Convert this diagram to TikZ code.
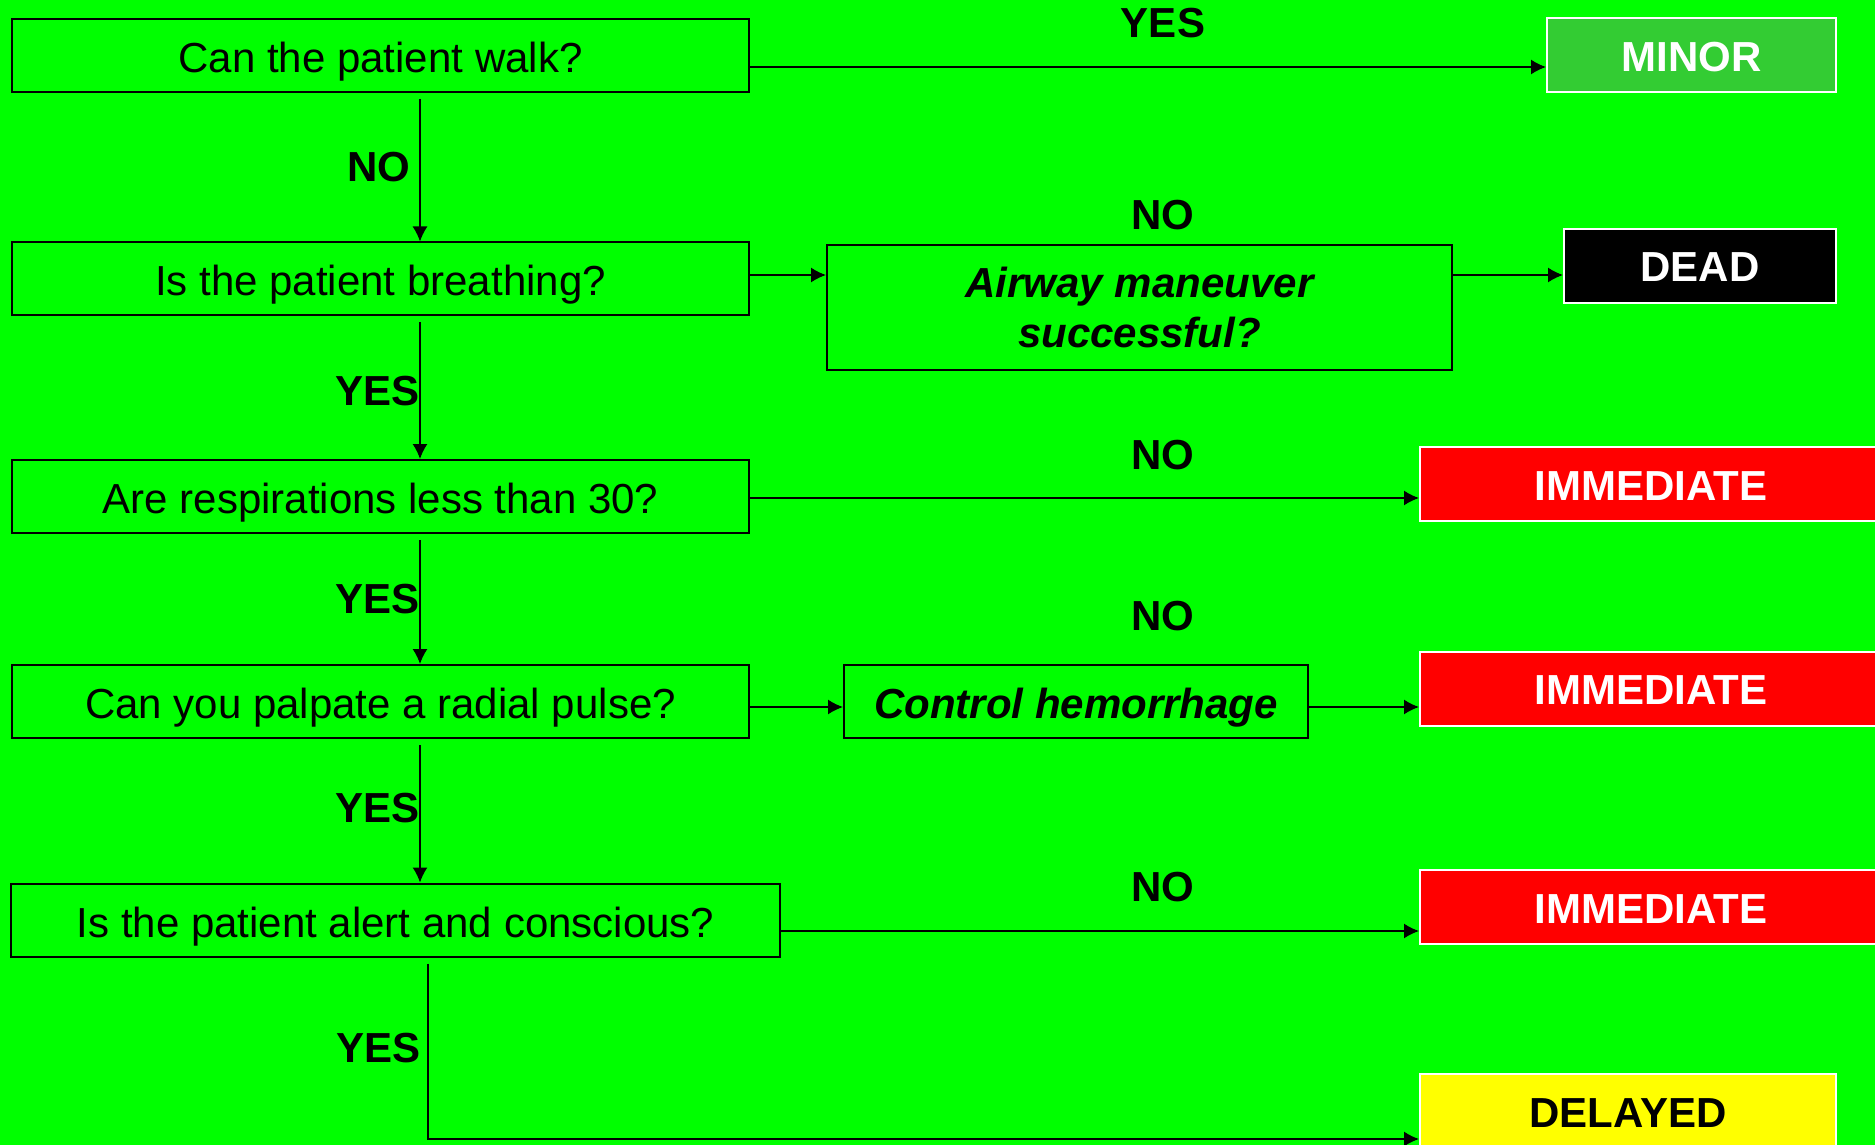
\documentclass[tikz,border=0pt]{standalone}
\usepackage{fontspec}
\setmainfont{Liberation Sans}
\usepackage{tikz}
\usetikzlibrary{positioning,arrows.meta,calc}
\definecolor{bggreen}{HTML}{00FF00}
\definecolor{minorgreen}{HTML}{33CC33}
\definecolor{immred}{HTML}{FF0000}
\definecolor{delyellow}{HTML}{FFFF00}
\tikzset{
    on grid,
    auto,
    question/.style = {
        draw,
        shape=rectangle,
        minimum height=36.5pt,
        minimum width=368.5pt,
        inner sep=0pt,
        text height=20pt,
        text depth=3pt,
        line width=1pt,
        font=\fontsize{21}{25}\selectfont
    },
    action/.style = {
        draw,
        shape=rectangle,
        minimum height=62.5pt,
        minimum width=312.5pt,
        inner sep=0pt,
        line width=1pt,
        align=center,
        font=\fontsize{21}{25}\selectfont\bfseries\itshape
    },
    outcome/.style = {
        draw=white,
        shape=rectangle,
        minimum height=37pt,
        inner sep=0pt,
        text height=17pt,
        text depth=1pt,
        line width=1pt,
        text=white,
        font=\fontsize{21}{25}\selectfont\bfseries
    },
    lbl/.style = {
        inner sep=0pt,
        font=\fontsize{21}{25}\selectfont\bfseries
    },
    conn/.style = {
        ->,
        line width=0.75pt
    },
    >={Latex[length=7.5pt,width=7.5pt]},
}

\begin{document}
\begin{tikzpicture}
            \path[use as bounding box, fill=bggreen] (-190.25pt,27.75pt) rectangle (747.25pt,-544.75pt);

            \node[question] (walk) {Can the patient walk?};
            \node[question, below=111.75pt of walk] (breathing) {Is the patient breathing?};
            \node[question, below=108.75pt of breathing] (resp) {Are respirations less than 30?};
            \node[question, below=102.5pt of resp] (pulse) {Can you palpate a radial pulse?};
            \node[question, minimum width=384.5pt, below right=109.25pt and 7.5pt of pulse] (alert) {Is the patient alert and conscious?};

            \node[action, below right=14.25pt and 379.5pt of breathing] (airway) {Airway maneuver\\successful?};
            \node[question, font=\fontsize{21}{25}\selectfont\bfseries\itshape, minimum width=232pt, right=347.75pt of pulse] (control) {Control hemorrhage};

            \node[outcome, fill=minorgreen, minimum width=144.5pt, right=655.5pt of walk] (minor) {MINOR};
            \node[outcome, fill=black, minimum width=136pt, above right=20.75pt and 280.25pt of airway] (dead) {DEAD};
            \node[outcome, fill=immred, minimum width=231pt, above right=6.25pt and 635.25pt of resp] (immone) {IMMEDIATE};
            \node[outcome, fill=immred, minimum width=231pt, below=102.25pt of immone] (immtwo) {IMMEDIATE};
            \node[outcome, fill=immred, minimum width=231pt, below=109.25pt of immtwo] (immthree) {IMMEDIATE};
            \node[outcome, fill=delyellow, text=black, minimum width=208pt, below left=102pt and 11.5pt of immthree] (delayed) {DELAYED};

            % main column
            \draw[conn, shorten <=3pt] ([xshift=19.75pt]walk.south) -- node[lbl, left, midway, xshift=-4.5pt] (nowalk) {NO} ([xshift=19.75pt]breathing.north);
            \draw[conn, shorten <=3pt] ([xshift=19.75pt]breathing.south) -- node[lbl, left, midway, yshift=-1.5pt] (yesbreath) {YES} ([xshift=19.75pt]resp.north);
            \draw[conn, shorten <=3pt] ([xshift=19.75pt]resp.south) -- node[lbl, left, midway] (yesresp) {YES} ([xshift=19.75pt]pulse.north);
            \draw[conn, shorten <=3pt] ([xshift=19.75pt]pulse.south) -- node[lbl, left, midway, yshift=1.5pt] (yespulse) {YES} ([xshift=12.25pt]alert.north);
            \draw[conn, shorten <=3pt] ([xshift=16.25pt]alert.south) |- node[lbl, left, pos=0.25, xshift=-3.5pt] (yesalert) {YES} ([yshift=-14pt]delayed.west);

            % side branches
            \draw[conn] ($(walk.east)+(0,-5.75pt)$) -- ($(walk.east -| minor.west)+(0,-5.75pt)$);
            \draw[conn] ($(breathing.east)+(0,2pt)$) -- ($(breathing.east -| airway.west)+(0,2pt)$);
            \draw[conn] ($(breathing.east -| airway.east)+(0,2pt)$) -- ($(breathing.east -| dead.west)+(0,2pt)$);
            \draw[conn] ($(resp.east)+(0,-0.75pt)$) -- ($(resp.east -| immone.west)+(0,-0.75pt)$);
            \draw[conn] ($(pulse.east)+(0,-2.75pt)$) -- ($(pulse.east -| control.west)+(0,-2.75pt)$);
            \draw[conn] ($(pulse.east -| control.east)+(0,-2.75pt)$) -- ($(pulse.east -| immtwo.west)+(0,-2.75pt)$);
            \draw[conn] ($(alert.east)+(0,-5.5pt)$) -- ($(alert.east -| immthree.west)+(0,-5.5pt)$);

            % branch labels
            \coordinate (lblcol) at (391.25pt,0);
            \node[lbl] (yeswalk) at ($(walk -| lblcol)+(0,16.25pt)$) {YES};
            \node[lbl] (nobreath) at ($(breathing -| lblcol)+(0,32pt)$) {NO};
            \node[lbl] (noresp) at ($(resp -| lblcol)+(0,20.75pt)$) {NO};
            \node[lbl] (nopulse) at ($(pulse -| lblcol)+(0,42.75pt)$) {NO};
            \node[lbl] (noalert) at ($(alert -| lblcol)+(0,16.5pt)$) {NO};
\end{tikzpicture}
\end{document}
